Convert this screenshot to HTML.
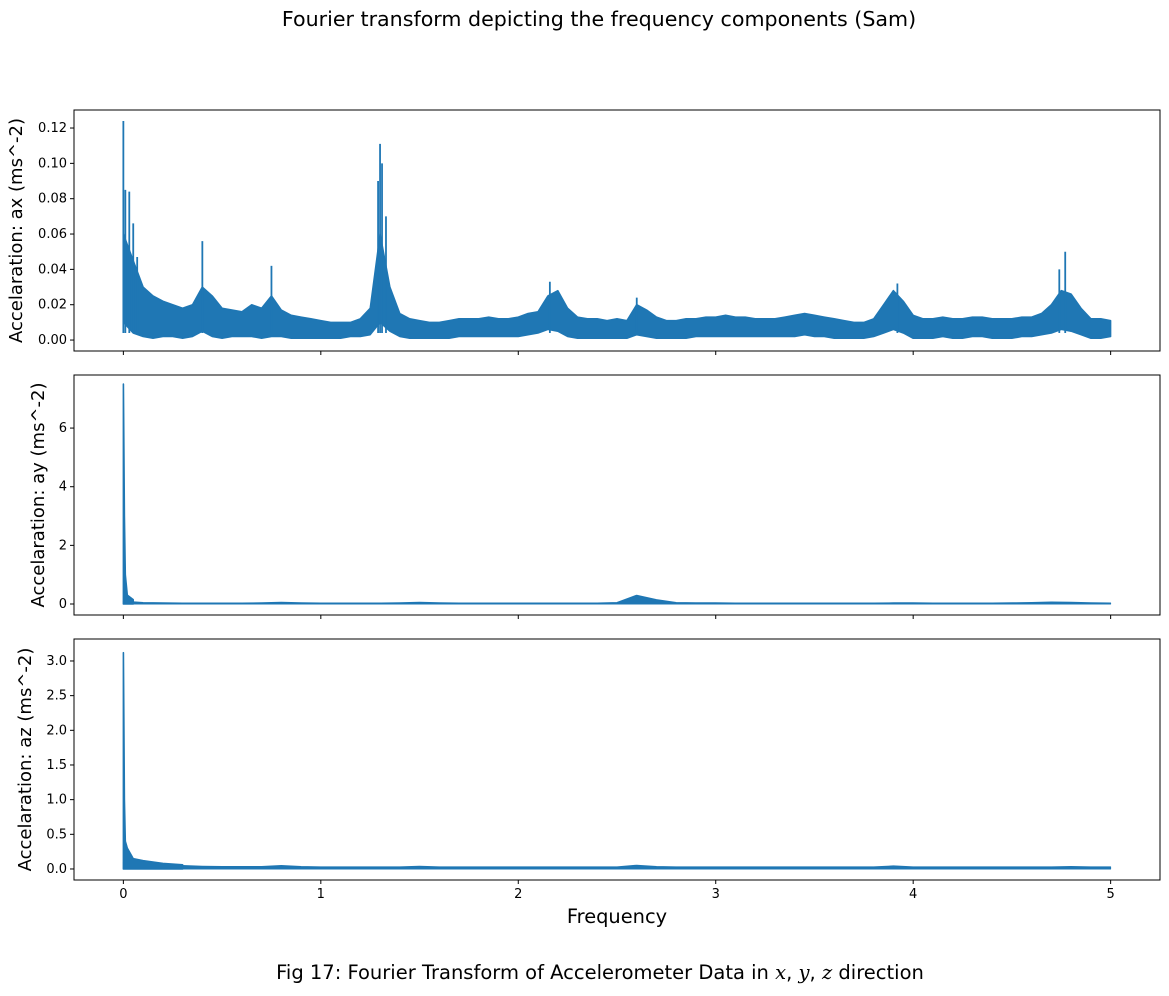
<!DOCTYPE html>
<html><head><meta charset="utf-8"><style>
body{margin:0;background:#fff}
svg{display:block;font-family:"DejaVu Sans","Liberation Sans",sans-serif}
</style></head><body>
<svg id="chart" width="1169" height="996" viewBox="0 0 1169 996" xmlns="http://www.w3.org/2000/svg">
<rect width="1169" height="996" fill="#fff"/>
<text x="599" y="26" font-size="20.6" text-anchor="middle" fill="#000">Fourier transform depicting the frequency components (Sam)</text>
<text x="617" y="923" font-size="19.4" text-anchor="middle" fill="#000">Frequency</text>
<text x="600" y="979" font-size="19.5" text-anchor="middle" fill="#000">Fig 17: Fourier Transform of Accelerometer Data in <tspan font-style="italic" font-family="DejaVu Serif, serif">x</tspan>, <tspan font-style="italic" font-family="DejaVu Serif, serif">y</tspan>, <tspan font-style="italic" font-family="DejaVu Serif, serif">z</tspan> direction</text>
<g id="plots"></g>
</svg>
<script>
const xTicks=[0,1,2,3,4,5];
const axHi=[0.06,0.045,0.03,0.025,0.022,0.02,0.018,0.02,0.03,0.025,0.018,0.017,0.016,0.02,0.018,0.025,0.017,0.014,0.013,0.012,0.011,0.010,0.010,0.010,0.012,0.018,0.06,0.03,0.015,0.012,0.011,0.010,0.010,0.011,0.012,0.012,0.012,0.013,0.012,0.012,0.013,0.015,0.016,0.025,0.028,0.018,0.013,0.012,0.012,0.011,0.012,0.011,0.02,0.017,0.013,0.011,0.011,0.012,0.012,0.013,0.013,0.014,0.013,0.013,0.012,0.012,0.012,0.013,0.014,0.015,0.014,0.013,0.012,0.011,0.010,0.010,0.012,0.020,0.028,0.022,0.014,0.012,0.012,0.013,0.012,0.012,0.013,0.013,0.012,0.012,0.012,0.013,0.013,0.015,0.02,0.028,0.026,0.018,0.012,0.012,0.011];
const axLo=[0.01,0.004,0.002,0.001,0.002,0.002,0.001,0.002,0.005,0.002,0.001,0.002,0.002,0.002,0.001,0.002,0.002,0.001,0.001,0.001,0.001,0.001,0.001,0.002,0.002,0.003,0.01,0.005,0.002,0.001,0.001,0.001,0.001,0.001,0.002,0.002,0.002,0.002,0.002,0.002,0.002,0.003,0.004,0.006,0.005,0.002,0.001,0.001,0.001,0.001,0.001,0.001,0.003,0.002,0.001,0.001,0.001,0.001,0.002,0.002,0.002,0.002,0.002,0.002,0.002,0.002,0.002,0.002,0.002,0.003,0.002,0.002,0.001,0.001,0.001,0.001,0.002,0.004,0.006,0.004,0.001,0.001,0.001,0.002,0.001,0.001,0.002,0.002,0.001,0.001,0.001,0.002,0.002,0.003,0.004,0.006,0.005,0.003,0.001,0.001,0.002];
const axSpikeF=[0,0.01,0.03,0.05,0.07,0.1,0.4,0.75,1.29,1.30,1.31,1.33,2.16,2.6,3.92,4.77,4.74];
const axSpikeV=[0.124,0.085,0.084,0.066,0.047,0.03,0.056,0.042,0.09,0.111,0.1,0.07,0.033,0.024,0.032,0.05,0.04];
const ayHi=[0.1,0.05,0.04,0.035,0.035,0.035,0.035,0.04,0.06,0.04,0.035,0.035,0.035,0.035,0.04,0.06,0.04,0.035,0.035,0.035,0.035,0.035,0.035,0.035,0.035,0.05,0.3,0.15,0.05,0.04,0.04,0.035,0.035,0.035,0.035,0.035,0.035,0.035,0.035,0.04,0.045,0.035,0.035,0.035,0.035,0.04,0.05,0.07,0.06,0.04,0.035];
const aySpikeF=[0,0.005,0.01,0.02,0.05];
const aySpikeV=[7.5,3.0,1.0,0.3,0.15];
const azHi=[0.1,0.08,0.06,0.05,0.04,0.035,0.035,0.035,0.05,0.035,0.03,0.03,0.03,0.03,0.03,0.04,0.03,0.03,0.03,0.03,0.03,0.03,0.03,0.03,0.03,0.03,0.055,0.035,0.03,0.03,0.03,0.03,0.03,0.03,0.03,0.03,0.03,0.03,0.03,0.045,0.03,0.03,0.03,0.03,0.03,0.03,0.03,0.03,0.035,0.03,0.03];
const azSpikeF=[0,0.005,0.01,0.02,0.05,0.1,0.2,0.3];
const azSpikeV=[3.12,1.0,0.4,0.3,0.15,0.12,0.08,0.06];
const p1Ticks=[0,0.02,0.04,0.06,0.08,0.10,0.12],p1Lab=["0.00","0.02","0.04","0.06","0.08","0.10","0.12"];
const p2Ticks=[0,2,4,6],p2Lab=["0","2","4","6"];
const p3Ticks=[0,0.5,1,1.5,2,2.5,3],p3Lab=["0.0","0.5","1.0","1.5","2.0","2.5","3.0"];

const NS="http://www.w3.org/2000/svg",root=document.getElementById('plots');
const L=74,R=1160,C="#1f77b4";
const xs=f=>L+(f+0.25)/5.5*(R-L);
function el(t,a){const e=document.createElementNS(NS,t);for(const k in a)e.setAttribute(k,a[k]);return e;}
const panels=[
 {name:'ax',top:110,bot:351,ymin:-0.0062,ymax:0.1302,hi:axHi,lo:axLo,step:0.05,sf:axSpikeF,sv:axSpikeV,ticks:p1Ticks,lab:p1Lab,title:'Accelaration: ax (ms^-2)',tx:22,xlab:false},
 {name:'ay',top:375,bot:615,ymin:-0.375,ymax:7.81,hi:ayHi,lo:null,step:0.1,sf:aySpikeF,sv:aySpikeV,ticks:p2Ticks,lab:p2Lab,title:'Accelaration: ay (ms^-2)',tx:44,xlab:false},
 {name:'az',top:639,bot:880,ymin:-0.159,ymax:3.317,hi:azHi,lo:null,step:0.1,sf:azSpikeF,sv:azSpikeV,ticks:p3Ticks,lab:p3Lab,title:'Accelaration: az (ms^-2)',tx:31,xlab:true}
];
panels.forEach(p=>{
 const ys=v=>p.bot-(v-p.ymin)/(p.ymax-p.ymin)*(p.bot-p.top);
 const g=el('g',{});
 
 
 root.appendChild(g);
 let d='';
 p.hi.forEach((v,i)=>{d+=(i?'L':'M')+xs(i*p.step).toFixed(1)+' '+ys(v).toFixed(1);});
 for(let i=p.hi.length-1;i>=0;i--){d+='L'+xs(i*p.step).toFixed(1)+' '+ys(p.lo?p.lo[i]:0).toFixed(1);}
 d+='Z';
 const env=el('path',{d:d,fill:C,stroke:C,'stroke-width':p.lo?1.5:1,'stroke-linejoin':'round'});
 
 
 g.appendChild(env);
 if(p.lo){
  p.sf.forEach((f,i)=>{
   const s=el('line',{x1:xs(f),x2:xs(f),y1:ys(p.sv[i]),y2:ys(0.004),stroke:C,'stroke-width':1.8});
   
   
   g.appendChild(s);
  });
 } else {
  let sd='';
  p.sf.forEach((f,i)=>{sd+=(i?'L':'M')+xs(f).toFixed(1)+' '+ys(p.sv[i]).toFixed(1);});
  sd+='L'+xs(p.sf[p.sf.length-1]).toFixed(1)+' '+ys(0).toFixed(1)+'L'+xs(0).toFixed(1)+' '+ys(0).toFixed(1)+'Z';
  const sp=el('path',{d:sd,fill:C,stroke:C,'stroke-width':1.6,'stroke-linejoin':'round'});
  
  
  g.appendChild(sp);
 }
 const fr=el('rect',{x:L,y:p.top,width:R-L,height:p.bot-p.top,fill:'none',stroke:'#000','stroke-width':1});
 
 
 g.appendChild(fr);
 p.ticks.forEach((t,i)=>{
  const y=ys(t);
  g.appendChild(el('line',{x1:L-4,x2:L,y1:y,y2:y,stroke:'#000','stroke-width':1}));
  const tx=el('text',{x:L-7,y:y+4,'font-size':13,'text-anchor':'end',fill:'#000'});
  
  
  tx.textContent=p.lab[i];g.appendChild(tx);
 });
 xTicks.forEach(t=>{
  const x=xs(t);
  g.appendChild(el('line',{x1:x,x2:x,y1:p.bot,y2:p.bot+4,stroke:'#000','stroke-width':1}));
  if(p.xlab){const tx=el('text',{x:x,y:p.bot+18,'font-size':13,'text-anchor':'middle',fill:'#000'});
   
   
   tx.textContent=t;g.appendChild(tx);}
 });
 const cy=(p.top+p.bot)/2;
 const yt=el('text',{x:p.tx,y:cy,'font-size':18,'text-anchor':'middle',transform:'rotate(-90 '+p.tx+' '+cy+')',fill:'#000'});
 
 
 yt.textContent=p.title;g.appendChild(yt);
});
</script>
</body></html>
